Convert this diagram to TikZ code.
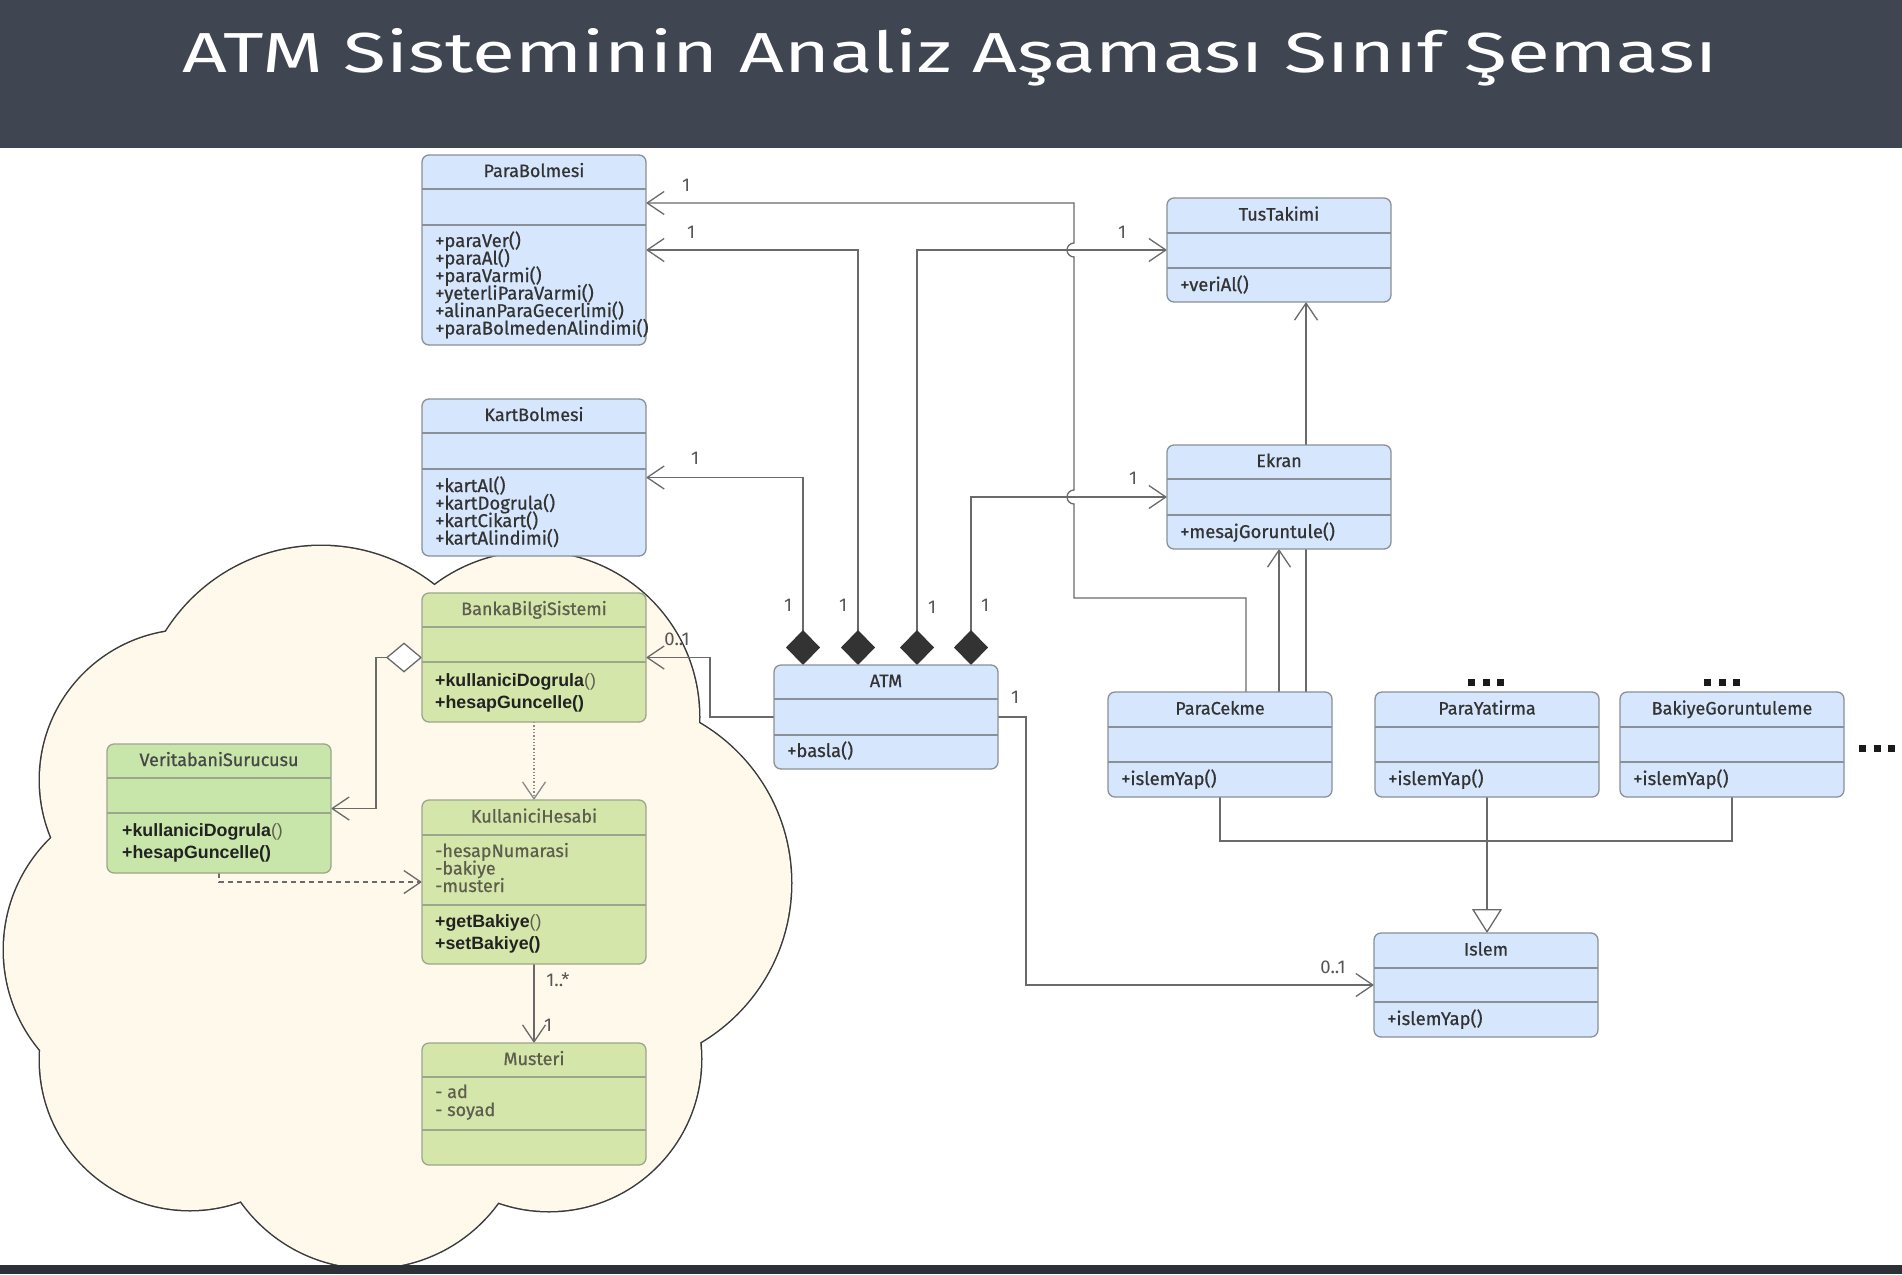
\documentclass[tikz,border=0pt]{standalone}
\usepackage{graphicx}
\usepackage{fontspec}
\setmainfont{Fira Sans}
\newfontfamily\boxfont[FakeBold=0.7]{Fira Sans}
\newfontfamily\arialfont{Liberation Sans}
\newfontfamily\titlefont{Fira Sans}
\usetikzlibrary{arrows.meta,calc}
\pgfdeclarelayer{cloud}
\pgfdeclarelayer{back}
\pgfsetlayers{cloud,back,main}
\definecolor{hdrbg}{HTML}{3F4651}
\definecolor{botbg}{HTML}{2C3139}
\definecolor{bluefill}{HTML}{D6E6FC}
\definecolor{bluedraw}{HTML}{8A9099}
\definecolor{greenfill}{HTML}{D4E6A9}
\definecolor{greenfillb}{HTML}{C8E6A9}
\definecolor{greendraw}{HTML}{9CA68C}
\definecolor{cloudfill}{HTML}{FEF9EA}
\definecolor{cloudline}{HTML}{3A3A3A}
\definecolor{conncol}{HTML}{6A6A6A}
\definecolor{depgray}{HTML}{8A8A8A}
\definecolor{txt}{HTML}{333333}
\definecolor{gtxt}{HTML}{5E5E4E}
\definecolor{gtxtb}{HTML}{474747}
\definecolor{btxt}{HTML}{222222}
\definecolor{lbltxt}{HTML}{555555}
\definecolor{diafill}{HTML}{333333}
\definecolor{dotcol}{HTML}{1A1A1A}
\newcommand\umlbox[8]{%
  \node[#2, minimum width=224pt, minimum height=#5pt, anchor=north west] (#1) at (#3,#4) {};
  \draw[#2 line] ($(#1.north west)+(0,#6)$) -- ($(#1.north east)+(0,#6)$);
  \draw[#2 line] ($(#1.north west)+(0,#7)$) -- ($(#1.north east)+(0,#7)$);
  \node[#2 title, anchor=base] (#1-t) at ($(#1.north)+(0,#6/2+5)$) {#8};
}
\newcommand\mlines[6]{%
  \foreach \t [count=\i] in {#6} {\node[#2, anchor=base west] (#1-m\i) at (#3, {#4+#5*(\i-1)}) {\t};}
}
\newcommand\dotrow{\rule{7pt}{7pt}\hspace{7.5pt}\rule{7pt}{7pt}\hspace{7.5pt}\rule{7pt}{7pt}}
\newcommand\lpar{{\mdseries\color{gtxt}()}}
\begin{document}
\begin{tikzpicture}[x=1pt,y=-1pt,
  clsblue/.style={draw=bluedraw, fill=bluefill, line width=1.3pt, rounded corners=7pt, inner sep=0pt, outer sep=0pt},
  clsblue line/.style={draw=bluedraw, line width=1.3pt},
  clsblue title/.style={font=\boxfont\fontsize{18}{18}\selectfont, text=txt, inner sep=0pt},
  clsgreen/.style={draw=greendraw, fill=greenfill, line width=1.3pt, rounded corners=7pt, inner sep=0pt, outer sep=0pt},
  clsgreen line/.style={draw=greendraw, line width=1.3pt},
  clsgreen title/.style={font=\boxfont\fontsize{18}{18}\selectfont, text=gtxt, inner sep=0pt},
  clsgreenb/.style={clsgreen, fill=greenfillb},
  clsgreenb line/.style={clsgreen line},
  clsgreenb title/.style={clsgreen title, text=gtxtb},
  mtext/.style={font=\boxfont\fontsize{18.5}{18}\selectfont, text=txt, inner sep=0pt},
  atext/.style={mtext, font=\boxfont\fontsize{18}{18}\selectfont, text=gtxt},
  btext/.style={font=\arialfont\bfseries\fontsize{17.8}{20}\selectfont, text=btxt, inner sep=0pt},
  lbl/.style={font=\fontsize{18.5}{18}\selectfont, text=lbltxt, inner sep=0pt},
  conn/.style={draw=conncol, line width=1.3pt},
  assoc/.style={conn, -{Straight Barb[length=17pt,width=23pt]}},
  comp/.style={conn, {Diamond[length=35pt,width=34pt,color=diafill]}-{Straight Barb[length=17pt,width=23pt]}},
  aggr/.style={conn, {Diamond[length=36pt,width=30pt,fill=white]}-{Straight Barb[length=17pt,width=23pt]}},
  gen/.style={conn, -{Triangle[length=24pt,width=30pt,fill=white]}},
  depdot/.style={draw=depgray, line width=1.3pt, dotted, -{Straight Barb[length=17pt,width=23pt]}},
  depdash/.style={draw=conncol, line width=1.3pt, dash pattern=on 5pt off 4pt, -{Straight Barb[length=17pt,width=23pt]}},
  dots/.style={inner sep=0pt, text=dotcol},
]
\useasboundingbox (0,0) rectangle (1902,1274);
% ---------- background, header, cloud ----------
\begin{pgfonlayer}{cloud}
  \fill[white] (0,0) rectangle (1902,1274);
  \fill[hdrbg] (0,0) rectangle (1902,148);
  \foreach \cx/\cy/\r in {321/729/183, 534/717/165, 606/883/185, 549/1059/152, 370/1110/158, 190/1060/150, 160/950/156, 190/780/150}
    \draw[cloudline, line width=3pt] (\cx,\cy) circle[radius=\r];
  \foreach \cx/\cy/\r in {321/729/183, 534/717/165, 606/883/185, 549/1059/152, 370/1110/158, 190/1060/150, 160/950/156, 190/780/150, 400/900/250}
    \fill[cloudfill] (\cx,\cy) circle[radius=\r];
  \fill[botbg] (0,1265) rectangle (1902,1274);
\end{pgfonlayer}
\node[anchor=base west, inner sep=0pt, text=white] (title) at (182,72)
  {\resizebox{1535pt}{44pt}{\titlefont ATM Sisteminin Analiz Aşaması Sınıf Şeması}};
% ---------- classes ----------
\umlbox{para}{clsblue}{422}{155}{190}{34}{70}{ParaBolmesi}
\mlines{para}{mtext}{435}{247}{17.5}{+paraVer(),+paraAl(),+paraVarmi(),+yeterliParaVarmi(),+alinanParaGecerlimi(),+paraBolmedenAlindimi()}
\umlbox{kart}{clsblue}{422}{399}{157}{34}{70}{KartBolmesi}
\mlines{kart}{mtext}{435}{492}{17.5}{+kartAl(),+kartDogrula(),+kartCikart(),+kartAlindimi()}
\umlbox{tus}{clsblue}{1167}{198}{104}{35}{70}{TusTakimi}
\mlines{tus}{mtext}{1180}{291}{17.5}{+veriAl()}
\umlbox{ekran}{clsblue}{1167}{445}{104}{34}{70}{Ekran}
\mlines{ekran}{mtext}{1180}{538}{17.5}{+mesajGoruntule()}
\umlbox{atm}{clsblue}{774}{665}{104}{34}{70}{ATM}
\mlines{atm}{mtext}{787}{757}{17.5}{+basla()}
\umlbox{pc}{clsblue}{1108}{692}{105}{35}{70}{ParaCekme}
\mlines{pc}{mtext}{1121}{785}{17.5}{+islemYap()}
\umlbox{py}{clsblue}{1375}{692}{105}{35}{70}{ParaYatirma}
\mlines{py}{mtext}{1388}{785}{17.5}{+islemYap()}
\umlbox{bg}{clsblue}{1620}{692}{105}{35}{70}{BakiyeGoruntuleme}
\mlines{bg}{mtext}{1633}{785}{17.5}{+islemYap()}
\umlbox{islem}{clsblue}{1374}{933}{104}{35}{69}{Islem}
\mlines{islem}{mtext}{1387}{1025}{17.5}{+islemYap()}
\umlbox{banka}{clsgreen}{422}{593}{129}{34}{69}{BankaBilgiSistemi}
\mlines{banka}{btext}{435}{686}{22}{+kullaniciDogrula\lpar,+hesapGuncelle()}
\umlbox{veri}{clsgreenb}{107}{744}{129}{34}{69}{VeritabaniSurucusu}
\mlines{veri}{btext}{122}{836}{22}{+kullaniciDogrula\lpar,+hesapGuncelle()}
\umlbox{kh}{clsgreen}{422}{800}{164}{35}{105}{KullaniciHesabi}
\mlines{kha}{atext}{435}{857}{17.5}{-hesapNumarasi,-bakiye,-musteri}
\mlines{kh}{btext}{435}{927}{22}{+getBakiye\lpar,+setBakiye()}
\umlbox{mus}{clsgreen}{422}{1043}{122}{34}{87}{Musteri}
\mlines{mus}{atext}{435}{1098}{18}{- ad,- soyad}
% ---------- ellipsis marks ----------
\node[dots] (dotsA) at (1486,682) {\dotrow};
\node[dots] (dotsB) at (1722,682) {\dotrow};
\node[dots] (dotsC) at (1877,748) {\dotrow};
% ---------- connectors ----------
\begin{pgfonlayer}{back}
  \draw[comp] ($(atm.north west)+(29,0)$) |- (kart.east);
  \draw[comp] ($(atm.north west)+(84,0)$) |- (para.east);
  \draw[comp] ($(atm.north west)+(143,0)$) |- (tus.west);
  \draw[comp] ($(atm.north west)+(197,0)$) |- (ekran.west);
  \draw[assoc] (atm.west) -- ++(-64,0) |- (banka.east);
  \draw[assoc] (atm.east) -- ++(28,0) |- (islem.west);
  \coordinate (pcA) at ($(pc.north)+(26,0)$);
  \coordinate (paraA) at ($(para.east)+(0,-47)$);
  \draw[assoc] (pcA) -- (1246,598) -- (1074,598) -- (1074,504)
     arc[start angle=90, end angle=270, radius=7] -- (1074,257)
     arc[start angle=90, end angle=270, radius=7] -- (1074,203) -- (paraA);
  \draw[assoc] (pc.north -| ekran.south) -- (ekran.south);
  \coordinate (tusin) at ($(tus.south)+(27,0)$);
  \draw[assoc] (pc.north -| tusin) -- (tusin);
  \coordinate (gj) at ($(py.south)+(0,44)$);
  \draw[conn] (pc.south) |- (gj);
  \draw[conn] (bg.south) |- (gj);
  \draw[conn] (py.south) -- (gj);
  \draw[gen] (gj) -- (gj |- islem.north);
  \draw[aggr] (banka.west) -- ++(-46,0) |- (veri.east);
  \draw[depdot] (banka.south) -- (kh.north);
  \draw[depdash] (veri.south) |- (kh.west);
  \draw[assoc] (kh.south) -- (mus.north);
\end{pgfonlayer}
% ---------- multiplicities ----------
\node[lbl] (l1) at (686,185) {1};
\node[lbl] (l2) at (691,232) {1};
\node[lbl] (l3) at (1122,232) {1};
\node[lbl] (l4) at (695,458) {1};
\node[lbl] (l5) at (1133,478) {1};
\node[lbl] (l6) at (788,605) {1};
\node[lbl] (l7) at (843,605) {1};
\node[lbl] (l8) at (932,607) {1};
\node[lbl] (l9) at (985,605) {1};
\node[lbl] (l10) at (677,639) {0..1};
\node[lbl] (l11) at (1015,697) {1};
\node[lbl] (l12) at (1333,967) {0..1};
\node[lbl] (l13) at (558,980) {1..*};
\node[lbl] (l14) at (548,1025) {1};
\end{tikzpicture}
\end{document}
